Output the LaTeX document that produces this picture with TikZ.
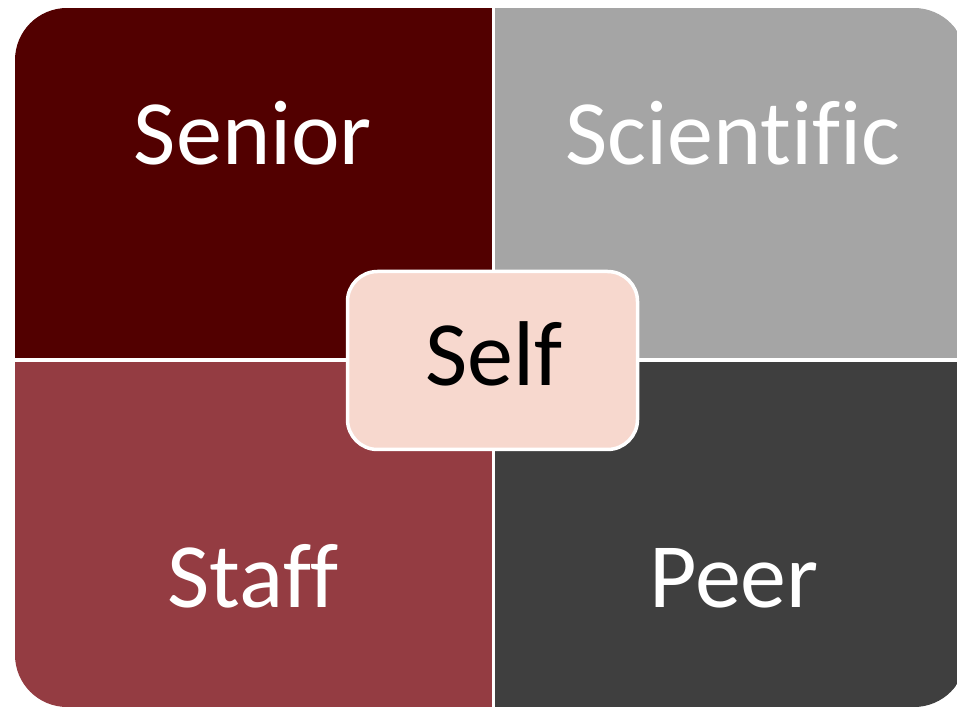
\documentclass[tikz,border=0pt]{standalone}
\usepackage{fontspec}
\setmainfont[Ligatures=NoCommon]{Carlito}
\definecolor{senior}{HTML}{520000}
\definecolor{scient}{HTML}{A5A5A5}
\definecolor{staff}{HTML}{943C42}
\definecolor{peer}{HTML}{3F3F3F}
\definecolor{selfc}{HTML}{F7D8CE}
\begin{document}
\begin{tikzpicture}[x=1pt,y=1pt,
  lbl/.style={anchor=base,text=white,font=\fontsize{92}{110}\selectfont,inner sep=0pt},
  selfbox/.style={draw=white,line width=3.5pt,fill=selfc,rounded corners=30pt,minimum width=290pt,minimum height=178pt,inner sep=0pt}]
\useasboundingbox (0,0) rectangle (957,709);
\begin{scope}
  \clip[rounded corners=52pt] (15,2) rectangle (966,701);
  \fill[senior] (15,349) rectangle (493.5,701);
  \fill[scient] (493.5,349) rectangle (966,701);
  \fill[staff] (15,2) rectangle (493.5,349);
  \fill[peer] (493.5,2) rectangle (966,349);
  \draw[white,line width=3.5pt] (493.5,2) -- (493.5,701);
  \draw[white,line width=3.5pt] (15,349) -- (966,349);
\end{scope}
\node[lbl] (senior) at (253,544) {Senior};
\node[lbl] (scientific) at (733,544) {Scientific};
\node[lbl] (staffl) at (253,102) {Staff};
\node[lbl] (peerl) at (734,102) {Peer};
\node[selfbox] (box) at (492.5,348.5) {};
\node[lbl,text=black] (self) at (494,323) {Self};
\end{tikzpicture}
\end{document}
